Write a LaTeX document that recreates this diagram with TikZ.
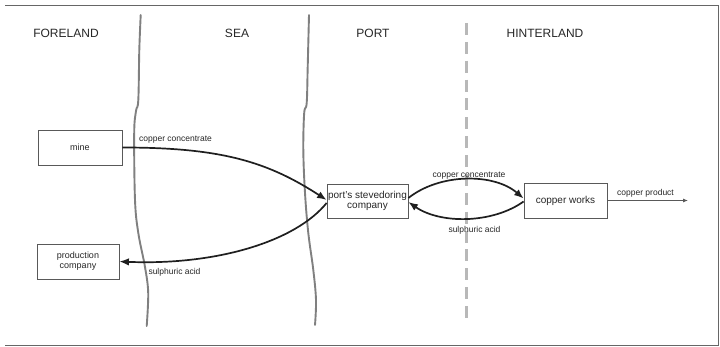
\documentclass[tikz,border=0pt]{standalone}
\usepackage{fontspec}
\setmainfont{Liberation Sans}
\usetikzlibrary{arrows.meta}
\begin{document}
\begin{tikzpicture}[x=1pt,y=-1pt,
  frame/.style={draw=black!60,line width=1pt},
  wave/.style={draw=black!50,line width=1.9pt,line cap=round},
  divider/.style={draw=black!28,line width=2.5pt,dash pattern=on 12pt off 6.87pt},
  header/.style={font=\fontsize{12}{14}\selectfont,text=black!85},
  box/.style={draw=black!65,line width=0.8pt,inner sep=0pt,align=center,text=black!85},
  smallbox/.style={box,font=\fontsize{9}{10}\selectfont},
  bigbox/.style={box,font=\fontsize{10}{10.6}\selectfont},
  flow/.style={draw=black!88,line width=1.7pt,-{Latex[length=9.5pt,width=7.5pt]}},
  thinflow/.style={draw=black!65,line width=0.8pt,-{Latex[length=5pt,width=4pt]}},
  lab/.style={font=\fontsize{8.5}{9}\selectfont,text=black!85,inner sep=0pt}
]
\useasboundingbox (0,0) rectangle (720,347);
% frame
\draw[frame] (5,5.5) -- (718.5,5.5) -- (718.5,345.8) -- (5,345.8);
% coast lines
\draw[wave] plot[smooth,tension=0.6] coordinates {(140.7,15) (139.3,50) (138.3,100) (136,111) (134.2,133) (135,200) (138.3,233) (145,267) (148.2,293) (146.7,326)};
\draw[wave] plot[smooth,tension=0.6] coordinates {(309,15) (307.7,67) (306.7,103) (304.2,113) (303.3,150) (305,193) (308.3,233) (313.3,270) (316,300) (315,325)};
% port / hinterland divider
\draw[divider] (466.5,23) -- (466.5,318);
% headers
\node[header] (hf) at (66,33) {FORELAND};
\node[header] (hs) at (237,33) {SEA};
\node[header] (hp) at (373,33) {PORT};
\node[header] (hh) at (545,33) {HINTERLAND};
% boxes
\node[smallbox,minimum width=84pt,minimum height=35pt] (mine) at (80,147.5) {mine};
\node[smallbox,minimum width=82pt,minimum height=35pt] (prod) at (78,261.5) {production\\company};
\node[bigbox,minimum width=81pt,minimum height=34pt] (port) at (367.5,201) {port's stevedoring\\company};
\node[bigbox,minimum width=83pt,minimum height=35pt] (works) at (565.5,200.5) {copper works};
\coordinate (out) at (688,200.5);
% flows
\draw[flow] (mine.east) .. controls (222,147.5) and (268,162) .. ([yshift=1pt]port.west);
\draw[flow] ([yshift=-2pt]port.west) .. controls (295,242) and (215,265.5) .. (prod.east);
\draw[flow] ([yshift=3pt]port.east) .. controls (440,173) and (494,173) .. ([yshift=2pt]works.west);
\draw[flow] ([yshift=-1pt]works.west) .. controls (492,224) and (440,224) .. ([yshift=-1pt]port.east);
\draw[thinflow] (works.east) -- (out);
% labels
\node[lab] (l1) at (175.5,140) {copper concentrate};
\node[lab] (l2) at (469,176) {copper concentrate};
\node[lab] (l3) at (474.5,230) {sulphuric acid};
\node[lab] (l4) at (174.5,272) {sulphuric acid};
\node[lab] (l5) at (645.5,193) {copper product};
\end{tikzpicture}
\end{document}
